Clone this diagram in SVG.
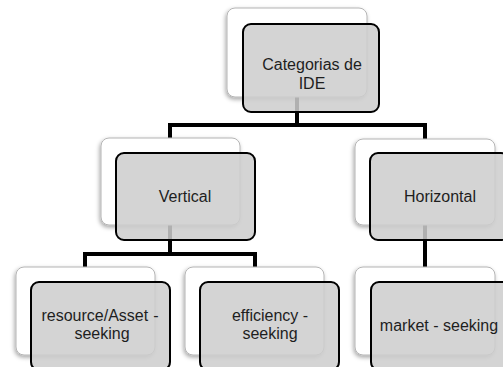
<svg xmlns="http://www.w3.org/2000/svg" width="503" height="367" viewBox="0 0 503 367">
  <defs>
    <filter id="shadow" x="-20%" y="-20%" width="140%" height="140%">
      <feDropShadow dx="-1" dy="2" stdDeviation="2" flood-color="#000" flood-opacity="0.35"/>
    </filter>
  </defs>
  <style>
    .back { fill: #ffffff; stroke: #b4b4b4; stroke-width: 1; filter: url(#shadow); }
    .front { fill: #cdcdcd; fill-opacity: 0.86; stroke: #000000; stroke-width: 2; }
    .link { fill: none; stroke: #000000; stroke-width: 4; stroke-linejoin: miter; }
    .label { font-family: "Liberation Sans", Arial, sans-serif; font-size: 16px; fill: #1e1e1e; text-anchor: middle; }
  </style>
  <rect width="503" height="367" fill="#ffffff"/>

  <!-- connectors sit beneath the nodes -->
  <g id="connectors">
    <path class="link" d="M297,97 V125 M170,138 V125 H425 V139"/>
    <path class="link" d="M170,225 V254 M85,267 V254 H255 V267"/>
    <path class="link" d="M425,225 V267"/>
  </g>

  <g id="node-categorias">
    <rect class="back" x="227" y="8" width="140" height="89" rx="8"/>
    <rect class="front" x="243" y="24" width="136" height="88" rx="8"/>
    <text class="label" x="312" y="70">Categorias de</text>
    <text class="label" x="312" y="89">IDE</text>
  </g>

  <g id="node-vertical">
    <rect class="back" x="101" y="138" width="139" height="87" rx="8"/>
    <rect class="front" x="116" y="153" width="139" height="87" rx="8"/>
    <text class="label" x="185" y="202">Vertical</text>
  </g>

  <g id="node-horizontal">
    <rect class="back" x="355" y="139" width="140" height="86" rx="8"/>
    <rect class="front" x="370" y="153" width="139" height="87" rx="8"/>
    <text class="label" x="440" y="202">Horizontal</text>
  </g>

  <g id="node-resource">
    <rect class="back" x="16" y="267" width="139" height="88" rx="8"/>
    <rect class="front" x="31" y="282" width="139" height="88" rx="8"/>
    <text class="label" x="100" y="321">resource/Asset<tspan dx="5">-</tspan></text>
    <text class="label" x="102" y="339">seeking</text>
  </g>

  <g id="node-efficiency">
    <rect class="back" x="185" y="267" width="139" height="88" rx="8"/>
    <rect class="front" x="200" y="282" width="139" height="88" rx="8"/>
    <text class="label" x="270" y="321">efficiency -</text>
    <text class="label" x="270" y="339">seeking</text>
  </g>

  <g id="node-market">
    <rect class="back" x="355" y="267" width="140" height="88" rx="8"/>
    <rect class="front" x="371" y="282" width="139" height="88" rx="8"/>
    <text class="label" x="439" y="331">market - seeking</text>
  </g>
</svg>
